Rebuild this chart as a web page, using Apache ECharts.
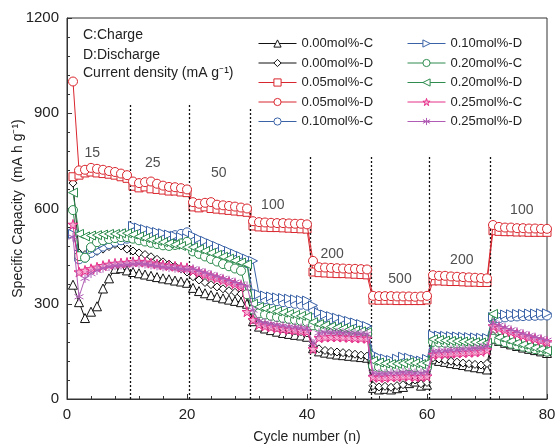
<!DOCTYPE html>
<html>
<head>
<meta charset="utf-8">
<script src="https://cdn.jsdelivr.net/npm/echarts@6/dist/echarts.min.js"></script>
<style>
html,body{margin:0;padding:0;background:#fff;}
#main{width:557px;height:446px;}
</style>
</head>
<body>
<div id="main"></div>
<script>
var names = ['0.00mol%-C','0.00mol%-D','0.05mol%-C','0.05mol%-D','0.10mol%-C',
             '0.10mol%-D','0.20mol%-C','0.20mol%-D','0.25mol%-C','0.25mol%-D'];
// capacity per cycle (1..80), mA h g-1
var c000 = [360,305,255,275,292,348,380,410,412,405, 400,396,392,388,384,380,377,373,370,366,
            350,340,333,327,322,317,313,309,305,300, 245,228,222,217,212,208,205,202,200,196,
            160,150,146,143,140,138,136,134,132,130, 35,30,32,30,34,38,50,55,42,45,
            125,120,117,113,110,107,103,100,97,93, 190,183,177,172,167,162,158,154,150,145];
var d000 = [680,460,455,460,465,472,480,487,482,472, 466,460,455,448,440,432,425,418,410,400,
            385,375,367,360,353,347,341,336,331,326, 250,240,234,229,225,221,218,215,212,208,
            168,158,153,150,148,146,144,141,138,135, 42,38,40,37,42,45,56,60,48,52,
            130,126,122,119,116,113,111,109,107,112, 200,192,185,178,172,166,161,156,151,147];
var c005 = [700,705,712,715,712,710,708,705,700,695, 670,665,668,662,660,658,655,655,652,650,
            605,602,605,600,598,596,594,592,590,588, 545,542,541,540,540,539,538,537,536,535,
            400,398,397,396,395,395,394,393,392,391, 312,311,311,311,310,310,310,310,310,312,
            372,372,371,370,370,369,368,368,367,367, 530,528,527,527,526,526,525,525,525,525];
var d005 = [1000,720,722,728,725,722,718,715,710,705, 685,680,683,685,678,672,668,667,664,660,
            620,615,618,620,612,610,608,606,603,600, 560,557,556,555,554,554,553,552,552,550,
            435,415,414,413,412,411,410,410,409,408, 325,324,324,324,323,323,323,322,323,325,
            390,388,388,386,385,384,383,382,381,380, 548,542,540,540,538,538,537,537,536,536];
var c010 = [525,440,445,460,470,480,488,495,500,505, 525,522,518,515,512,510,512,516,520,525,
            500,492,484,476,468,460,452,444,436,428, 330,318,314,311,308,305,302,300,297,294,
            282,262,257,252,247,242,237,232,227,222, 128,120,116,113,116,120,118,113,110,115,
            196,194,192,191,190,189,188,187,186,185, 250,254,257,259,260,261,262,262,263,263];
var d010 = [520,455,450,468,480,490,500,507,514,520, 545,540,535,530,526,522,518,514,510,506,
            515,506,498,490,482,474,466,458,450,442, 435,330,326,323,320,318,316,314,312,310,
            295,272,266,261,256,251,246,241,236,230, 142,132,127,123,127,133,130,124,121,126,
            202,200,199,198,197,196,195,194,193,192, 258,263,266,267,268,268,269,269,270,270];
var c020 = [595,450,445,478,494,500,504,507,510,510, 505,500,496,492,488,484,482,485,490,495,
            465,457,449,441,433,425,418,411,404,330, 282,270,266,262,258,255,252,249,246,243,
            232,228,224,220,217,214,211,208,205,202, 104,101,99,97,98,100,103,100,97,100,
            180,178,177,176,175,174,173,172,171,170, 190,184,179,174,169,165,161,157,153,149];
var d020 = [650,520,512,515,516,518,520,520,522,522, 518,512,507,502,498,494,490,486,482,478,
            478,472,466,460,454,448,442,436,430,424, 300,290,285,280,276,272,268,265,262,259,
            242,236,232,228,225,222,219,216,213,210, 120,115,112,110,111,113,116,113,110,113,
            188,186,184,183,182,181,180,179,178,177, 268,194,188,182,176,171,166,161,157,152];
var c025 = [550,400,405,410,415,420,424,427,428,430, 432,433,431,428,425,422,420,418,415,413,
            405,399,393,387,381,375,369,363,357,275, 250,235,230,227,224,221,219,217,215,213,
            158,193,195,196,196,195,194,193,192,191, 70,68,68,70,70,72,72,70,70,72,
            140,142,143,144,145,146,147,148,150,155, 230,224,218,212,206,200,195,190,185,180];
var d025 = [510,322,380,395,405,412,417,420,422,423, 425,427,425,422,419,416,414,412,410,408,
            410,404,398,392,386,380,374,368,362,356, 280,245,240,237,234,231,228,226,224,222,
            175,208,210,210,210,209,208,207,206,205, 82,80,80,82,82,84,84,82,82,85,
            150,151,152,154,155,157,158,160,162,166, 240,232,225,218,212,206,200,195,190,185];

// current density labels
var rateText = ['15','25','50','100','200','500','200','100'];
var rateX = [4.2, 14.3, 25.3, 34.3, 44.2, 55.5, 65.8, 75.8];
var rateY = [775, 743, 712, 611, 457, 378, 438, 595];
// dotted separators
var sepX = [10.5, 20.3, 30.5, 40.6, 50.7, 60.3, 70.5];
var sepTop = [930, 930, 918, 768, 768, 768, 768];

var allData = [c000,d000,c005,d005,c010,d010,c020,d020,c025,d025];
var colors = ['#111','#111','#d9262e','#d9262e','#3a62a7','#3a62a7','#2d8c4e','#2d8c4e','#e5308a','#b05cb4'];
var fills = ['#fff','#fff','#fff','#fff','#fff','#fff','#fff','#fff','#f6b0d4','#fff'];
var symbols = ['triangle','diamond','rect','circle','circle',
  'path://M0,0 L100,50 L0,100 Z','circle','path://M100,0 L0,50 L100,100 Z',
  'path://M50,0 L61,35 L98,35 L68,57 L79,91 L50,70 L21,91 L32,57 L2,35 L39,35 Z',
  'path://M50,0 L50,100 M7,25 L93,75 M7,75 L93,25'];
var sizes = [9,8,8,9,9,9,9,9,10,9];

var chart = echarts.init(document.getElementById('main'));
var FONT = 'Liberation Sans, Arial, sans-serif';

var series = [];
var legendItems = [];
for (var s = 0; s < allData.length; s++) {
    var pts = [];
    for (var i = 0; i < allData[s].length; i++) {
        pts.push([i + 1, allData[s][i]]);
    }
    series.push({
        name: names[s],
        type: 'line',
        data: pts,
        symbol: symbols[s],
        symbolSize: sizes[s],
        showAllSymbol: true,
        lineStyle: {color: colors[s], width: 1},
        itemStyle: {color: fills[s], borderColor: colors[s], borderWidth: 1},
        z: 2 + s,
        animation: false
    });
    legendItems.push({
        name: names[s],
        itemStyle: {color: fills[s], borderColor: colors[s], borderWidth: 1},
        lineStyle: {color: colors[s], width: 1}
    });
}
var sepLines = [];
for (var k = 0; k < sepX.length; k++) {
    sepLines.push([{coord: [sepX[k], 0]}, {coord: [sepX[k], sepTop[k]]}]);
}
var rateData = [];
for (var r = 0; r < rateText.length; r++) {
    rateData.push({name: rateText[r], value: [rateX[r], rateY[r]]});
}
series.push({
    type: 'scatter',
    data: rateData,
    symbolSize: 0,
    silent: true,
    label: {show: true, position: 'inside', formatter: '{b}', fontSize: 14, color: '#222', fontFamily: FONT},
    markLine: {
        silent: true,
        symbol: 'none',
        label: {show: false},
        lineStyle: {type: [2, 2], color: '#111', width: 1.3},
        data: sepLines
    },
    z: 1,
    animation: false
});

function plain(v) { return String(v); }

chart.setOption({
    animation: false,
    textStyle: {fontFamily: FONT},
    grid: {left: 67, right: 10, top: 18, bottom: 47, show: true, borderColor: '#333', borderWidth: 1,
           containLabel: false, outerBoundsMode: 'none'},
    legend: [{
        data: legendItems.slice(0, 5),
        orient: 'vertical',
        left: 253, top: 32,
        itemWidth: 38, itemHeight: 9, itemGap: 6.5,
        textStyle: {fontSize: 13, color: '#222', fontFamily: FONT}
    }, {
        data: legendItems.slice(5),
        orient: 'vertical',
        left: 402, top: 32,
        itemWidth: 38, itemHeight: 9, itemGap: 6.5,
        textStyle: {fontSize: 13, color: '#222', fontFamily: FONT}
    }],
    graphic: [
        {type: 'text', left: 83, top: 28, style: {text: 'C:Charge', fontSize: 14, fill: '#222', fontFamily: FONT}},
        {type: 'text', left: 83, top: 48, style: {text: 'D:Discharge', fontSize: 14, fill: '#222', fontFamily: FONT}},
        {type: 'text', left: 83, top: 66, style: {text: 'Current density (mA g\u207B\u00B9)', fontSize: 14, fill: '#222', fontFamily: FONT}}
    ],
    xAxis: {
        type: 'value', min: 0, max: 80, interval: 20,
        name: 'Cycle number (n)', nameLocation: 'middle', nameGap: 31, nameMoveOverlap: false,
        nameTextStyle: {fontSize: 14, color: '#222'},
        axisLine: {lineStyle: {color: '#333'}},
        axisTick: {inside: true, length: 5, lineStyle: {color: '#333'}},
        minorTick: {show: true, splitNumber: 5, length: 3, lineStyle: {color: '#333'}},
        axisLabel: {fontSize: 15, color: '#222', margin: 8, formatter: plain},
        splitLine: {show: false}
    },
    yAxis: {
        type: 'value', min: 0, max: 1200, interval: 300,
        name: 'Specific Capacity  (mA h g\u207B\u00B9)', nameLocation: 'middle', nameGap: 42, nameMoveOverlap: false,
        nameTextStyle: {fontSize: 14, color: '#222'},
        axisLine: {lineStyle: {color: '#333'}},
        axisTick: {inside: true, length: 5, lineStyle: {color: '#333'}},
        minorTick: {show: true, splitNumber: 5, length: 3, lineStyle: {color: '#333'}},
        axisLabel: {fontSize: 15, color: '#222', margin: 8, formatter: plain},
        splitLine: {show: false}
    },
    series: series
});
</script>
</body>
</html>
